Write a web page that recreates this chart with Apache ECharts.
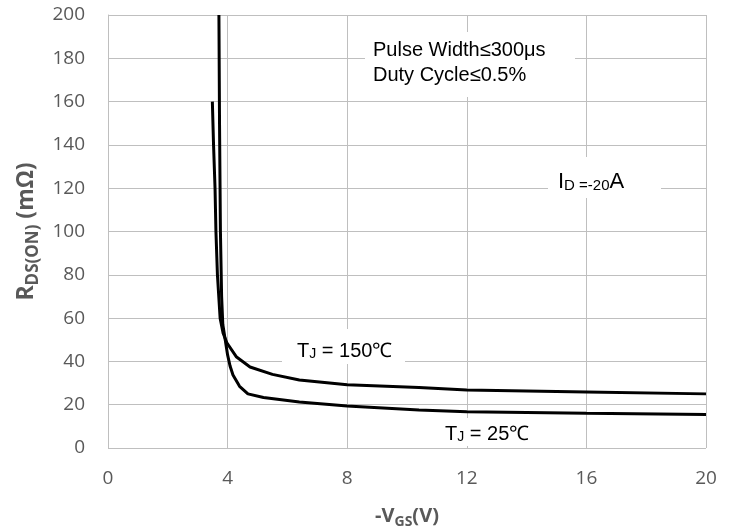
<!DOCTYPE html>
<html>
<head>
<meta charset="utf-8">
<script src="https://cdn.jsdelivr.net/npm/echarts@6/dist/echarts.min.js"></script>
<style>
  html, body { margin: 0; padding: 0; background: #fff; }
  #chart { width: 733px; height: 530px; }
</style>
</head>
<body>
<div id="chart"></div>
<script>
// TJ = 25℃
var vgs25 = [3.71, 3.73, 3.76, 3.80, 3.84, 3.92, 4.0, 4.08, 4.18, 4.4, 4.68, 5.2, 6.4, 8, 10.4, 12, 16, 20];
var rds25 = [200, 150, 100, 70, 57, 50, 43, 38, 33.7, 28.5, 25, 23.3, 21.2, 19.4, 17.6, 16.8, 16.1, 15.5];
// TJ = 150℃
var vgs150 = [3.49, 3.53, 3.58, 3.61, 3.66, 3.75, 3.85, 3.98, 4.3, 4.75, 5.5, 6.4, 8, 10.4, 12, 16, 20];
var rds150 = [160, 140, 120, 100, 80, 60, 53, 48.5, 42, 37.4, 34, 31.4, 29.2, 28, 26.8, 25.9, 25];

var xTicks = [0, 4, 8, 12, 16, 20];
var yTicks = [0, 20, 40, 60, 80, 100, 120, 140, 160, 180, 200];

function zip(xs, ys) {
  var out = [];
  for (var i = 0; i < xs.length; i++) out.push([xs[i], ys[i]]);
  return out;
}

var gray = '#595959';
var gridColor = '#bfbfbf';
var tickFont = '"Open Sans", Lato, sans-serif';
var txtFont = '"Liberation Sans", Arial, sans-serif';

var myChart = echarts.init(document.getElementById('chart'));

// white boxes behind the notes, so the grid lines stop there
function box(x, y, w, h) {
  return { type: 'rect', z: 1, shape: { x: x, y: y, width: w, height: h }, style: { fill: '#fff' }, silent: true };
}

var option = {
  animation: false,
  grid: { left: 108, right: 27, top: 15, bottom: 82, outerBoundsMode: 'none' },
  xAxis: {
    type: 'value',
    min: xTicks[0],
    max: xTicks[xTicks.length - 1],
    interval: 4,
    name: '{a|-V}{s|GS}{a|(V)}',
    nameLocation: 'middle',
    nameGap: 55,
    nameTextStyle: {
      fontWeight: 'bold',
      rich: {
        a: { fontFamily: tickFont, fontWeight: 'bold', fontSize: 20, color: gray },
        s: { fontFamily: tickFont, fontWeight: 'bold', fontSize: 14, color: gray, verticalAlign: 'bottom', lineHeight: 26 }
      }
    },
    axisLine: { show: false },
    axisTick: { show: false },
    axisLabel: { color: gray, fontSize: 19, fontFamily: tickFont, margin: 21 },
    splitLine: { show: true, lineStyle: { color: gridColor, width: 1 } }
  },
  yAxis: {
    type: 'value',
    min: yTicks[0],
    max: yTicks[yTicks.length - 1],
    interval: 20,
    name: '{a|R}{s|DS(ON)}{a| (mΩ)}',
    nameLocation: 'middle',
    nameRotate: 90,
    nameGap: 63,
    nameTextStyle: {
      fontWeight: 'bold',
      rich: {
        a: { fontFamily: tickFont, fontWeight: 'bold', fontSize: 23, color: gray },
        s: { fontFamily: tickFont, fontWeight: 'bold', fontSize: 17, color: gray, verticalAlign: 'bottom', lineHeight: 31 }
      }
    },
    axisLine: { show: true, lineStyle: { color: gridColor, width: 1 } },
    axisTick: { show: false },
    axisLabel: { color: gray, fontSize: 19, fontFamily: tickFont, margin: 23 },
    splitLine: { show: true, lineStyle: { color: gridColor, width: 1 } }
  },
  series: [
    {
      name: 'TJ = 25℃',
      type: 'line',
      data: zip(vgs25, rds25),
      showSymbol: false,
      smooth: false,
      z: 3,
      lineStyle: { color: '#000', width: 3 }
    },
    {
      name: 'TJ = 150℃',
      type: 'line',
      data: zip(vgs150, rds150),
      showSymbol: false,
      smooth: false,
      z: 3,
      lineStyle: { color: '#000', width: 3 }
    }
  ],
  graphic: [
    box(365, 32, 210, 65),
    box(548, 157, 113, 41),
    box(282, 329, 123, 35),
    box(428, 418, 157, 28),
    {
      type: 'text', z: 2, silent: true,
      style: { text: 'Pulse Width≤300μs', x: 373, y: 50, font: '20px ' + txtFont, fill: '#000', verticalAlign: 'middle' }
    },
    {
      type: 'text', z: 2, silent: true,
      style: { text: 'Duty Cycle≤0.5%', x: 373, y: 75, font: '20px ' + txtFont, fill: '#000', verticalAlign: 'middle' }
    },
    {
      type: 'text', z: 2, silent: true,
      style: {
        text: '{b|I}{s|D =-20}{b|A}', x: 558, y: 181, verticalAlign: 'middle',
        rich: {
          b: { fontSize: 22, fontFamily: txtFont, fill: '#000', verticalAlign: 'bottom', lineHeight: 24 },
          s: { fontSize: 15, fontFamily: txtFont, fill: '#000', verticalAlign: 'bottom', lineHeight: 24 }
        }
      }
    },
    {
      type: 'text', z: 2, silent: true,
      style: {
        text: '{b|T}{s|J}{b| = 150℃}', x: 297, y: 349, verticalAlign: 'middle',
        rich: {
          b: { fontSize: 20, fontFamily: txtFont, fill: '#000', verticalAlign: 'bottom', lineHeight: 24 },
          s: { fontSize: 14, fontFamily: txtFont, fill: '#000', verticalAlign: 'bottom', lineHeight: 24 }
        }
      }
    },
    {
      type: 'text', z: 2, silent: true,
      style: {
        text: '{b|T}{s|J}{b| = 25℃}', x: 445, y: 432, verticalAlign: 'middle',
        rich: {
          b: { fontSize: 20, fontFamily: txtFont, fill: '#000', verticalAlign: 'bottom', lineHeight: 24 },
          s: { fontSize: 14, fontFamily: txtFont, fill: '#000', verticalAlign: 'bottom', lineHeight: 24 }
        }
      }
    }
  ]
};
myChart.setOption(option, true);
</script>
</body>
</html>
